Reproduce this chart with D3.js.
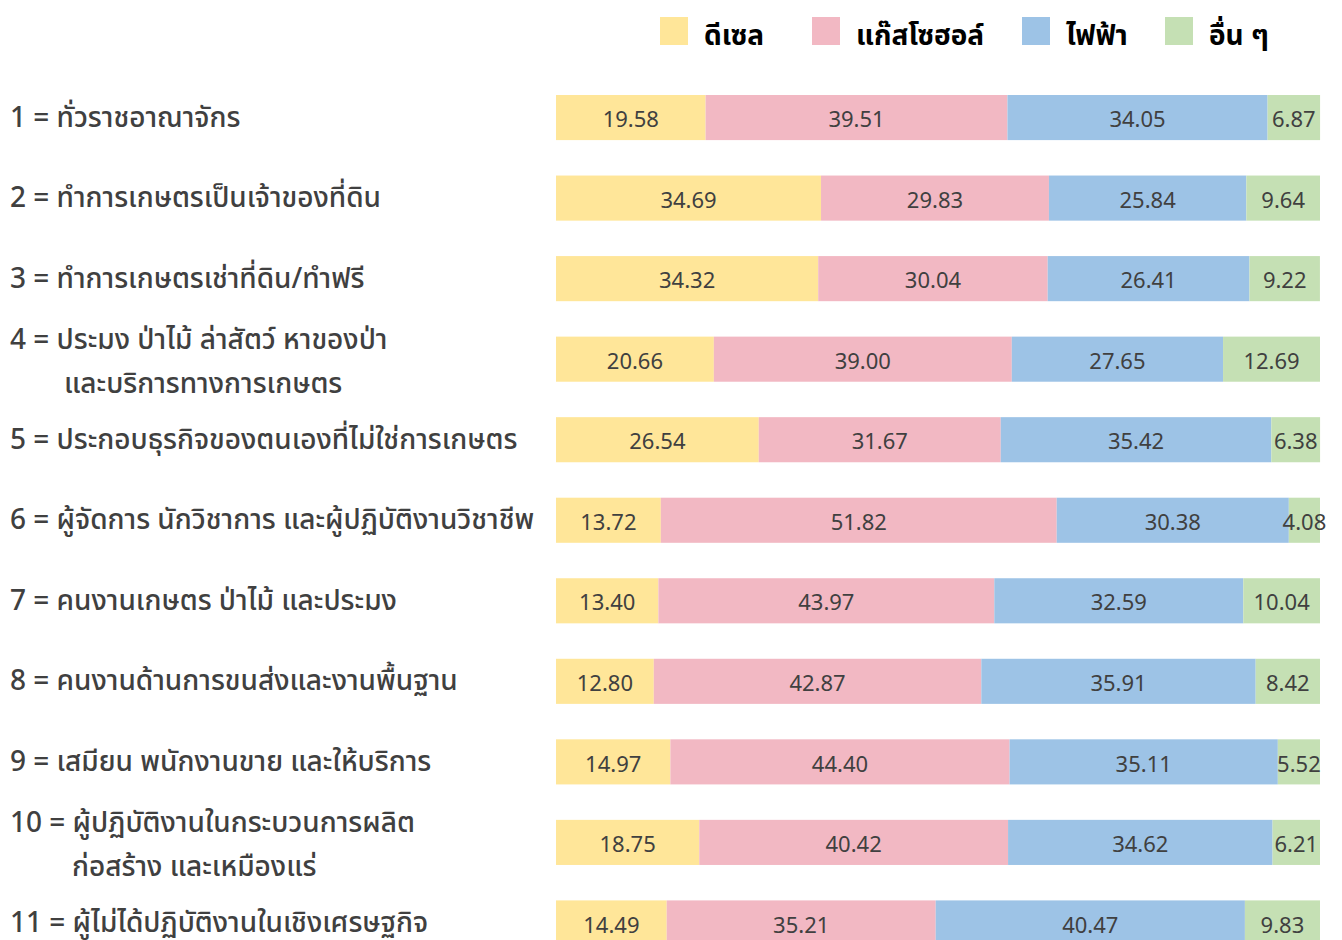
<!DOCTYPE html>
<html>
<head>
<meta charset="utf-8">
<script src="https://cdn.jsdelivr.net/npm/d3@7"></script>
<style>
  body { margin: 0; background: #fff; }
  text { font-family: "Noto Sans Thai", "Leelawadee UI", Tahoma, "Noto Sans", "DejaVu Sans", sans-serif; }
  text.val { font-family: "Noto Sans", "DejaVu Sans", sans-serif; }
</style>
</head>
<body>
<script>
var width = 1342;
var height = 940;

// categories (each label may wrap onto a second line)
var categories = [
  ["1 = ทั่วราชอาณาจักร"],
  ["2 = ทำการเกษตรเป็นเจ้าของที่ดิน"],
  ["3 = ทำการเกษตรเช่าที่ดิน/ทำฟรี"],
  ["4 = ประมง ป่าไม้ ล่าสัตว์ หาของป่า", "และบริการทางการเกษตร"],
  ["5 = ประกอบธุรกิจของตนเองที่ไม่ใช่การเกษตร"],
  ["6 = ผู้จัดการ นักวิชาการ และผู้ปฏิบัติงานวิชาชีพ"],
  ["7 = คนงานเกษตร ป่าไม้ และประมง"],
  ["8 = คนงานด้านการขนส่งและงานพื้นฐาน"],
  ["9 = เสมียน พนักงานขาย และให้บริการ"],
  ["10 = ผู้ปฏิบัติงานในกระบวนการผลิต", "ก่อสร้าง และเหมืองแร่"],
  ["11 = ผู้ไม่ได้ปฏิบัติงานในเชิงเศรษฐกิจ"]
];
var seriesNames = ["ดีเซล", "แก๊สโซฮอล์", "ไฟฟ้า", "อื่น ๆ"];
var diesel =   [19.58, 34.69, 34.32, 20.66, 26.54, 13.72, 13.40, 12.80, 14.97, 18.75, 14.49];
var gasohol =  [39.51, 29.83, 30.04, 39.00, 31.67, 51.82, 43.97, 42.87, 44.40, 40.42, 35.21];
var electric = [34.05, 25.84, 26.41, 27.65, 35.42, 30.38, 32.59, 35.91, 35.11, 34.62, 40.47];
var other =    [6.87, 9.64, 9.22, 12.69, 6.38, 4.08, 10.04, 8.42, 5.52, 6.21, 9.83];

var colours = ["#FFE699", "#F2B8C3", "#9DC3E6", "#C5E0B4"];
var textColour = "#404040";

var rows = categories.map(function (c, i) {
  return { id: i, label: c, diesel: diesel[i], gasohol: gasohol[i], electric: electric[i], other: other[i] };
});
var keys = ["diesel", "gasohol", "electric", "other"];
var stacked = d3.stack().keys(keys)(rows);

var x = d3.scaleLinear().domain([0, 100]).range([556, 1320]);
var y = d3.scaleBand()
  .domain(d3.range(rows.length))
  .range([95, 945.5])
  .paddingInner(0.44)
  .paddingOuter(0);
var colour = d3.scaleOrdinal().domain(keys).range(colours);

var svg = d3.select("body").append("svg")
  .attr("width", width)
  .attr("height", height);

// bars
var layers = svg.selectAll(".layer")
  .data(stacked)
  .enter().append("g")
  .attr("class", "layer")
  .attr("fill", d => colour(d.key));

layers.selectAll("rect")
  .data(d => d)
  .enter().append("rect")
  .attr("x", d => x(d[0]))
  .attr("y", (d, i) => y(i))
  .attr("width", d => x(d[1]) - x(d[0]))
  .attr("height", y.bandwidth());

// values inside segments
layers.selectAll("text")
  .data(d => d)
  .enter().append("text")
  .attr("class", "val")
  .attr("x", d => (x(d[0]) + x(d[1])) / 2)
  .attr("y", (d, i) => y(i) + y.bandwidth() / 2 + 2)
  .attr("dy", "0.35em")
  .attr("text-anchor", "middle")
  .attr("fill", textColour)
  .style("font-size", "22px")
  .text(d => (d[1] - d[0]).toFixed(2));

// category labels on the left
var labels = svg.selectAll(".cat")
  .data(rows)
  .enter().append("text")
  .attr("class", "cat")
  .attr("fill", textColour)
  .style("font-size", "28px")
  .style("font-weight", 500)
  .attr("y", d => y(d.id) + y.bandwidth() / 2 + 9 + (d.label.length > 1 ? -19 : 0))
  .attr("dy", "0.35em");

labels.selectAll("tspan")
  .data(d => d.label.map((t, j) => ({ t: t, j: j, n: d.id })))
  .enter().append("tspan")
  .attr("x", d => d.j === 0 ? 10 : (d.n >= 9 ? 72 : 64))
  .attr("dy", d => d.j === 0 ? 0 : 44)
  .text(d => d.t);

// legend
var legendX = [660, 812, 1022, 1165];
var legend = svg.selectAll(".legend")
  .data(seriesNames)
  .enter().append("g")
  .attr("class", "legend")
  .attr("transform", (d, i) => "translate(" + legendX[i] + ",17)");

legend.append("rect")
  .attr("width", 28)
  .attr("height", 28)
  .attr("fill", (d, i) => colours[i]);

legend.append("text")
  .attr("x", 44)
  .attr("y", 18)
  .attr("dy", "0.35em")
  .attr("fill", "#000")
  .style("font-size", "28px")
  .style("font-weight", "bold")
  .text(d => d);
</script>
</body>
</html>
